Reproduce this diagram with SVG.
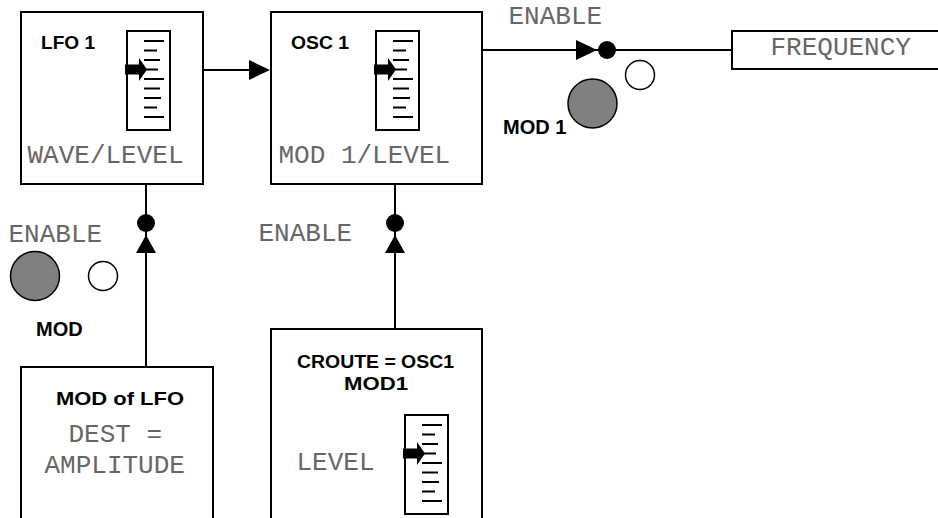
<svg xmlns="http://www.w3.org/2000/svg" width="938" height="518" viewBox="0 0 938 518">
<defs>
<style>
.box{fill:#fff;stroke:#000;stroke-width:2}
.ln{fill:none;stroke:#000;stroke-width:2}
.tick{stroke:#000;stroke-width:2}
.lcd{font-family:"Liberation Mono","DejaVu Sans Mono",monospace;font-size:26px;fill:#666}
.hd{font-family:"Liberation Sans",Arial,sans-serif;font-size:19px;font-weight:bold;fill:#000}
.lb{font-family:"Liberation Sans",Arial,sans-serif;font-size:20px;font-weight:bold;fill:#000}
.gray{fill:#808080;stroke:#000;stroke-width:1.5}
.open{fill:#fff;stroke:#000;stroke-width:1.5}
</style>
<g id="slider">
<rect x="0" y="0" width="43" height="99" class="box"/>
<line x1="17" y1="10" x2="37" y2="10" class="tick"/>
<line x1="17" y1="19.5" x2="30" y2="19.5" class="tick"/>
<line x1="17" y1="29" x2="33" y2="29" class="tick"/>
<line x1="17" y1="38.5" x2="31" y2="38.5" class="tick"/>
<line x1="17" y1="48" x2="37" y2="48" class="tick"/>
<line x1="17" y1="57.5" x2="33" y2="57.5" class="tick"/>
<line x1="17" y1="67" x2="34" y2="67" class="tick"/>
<line x1="17" y1="76.5" x2="30" y2="76.5" class="tick"/>
<line x1="17" y1="86" x2="37" y2="86" class="tick"/>
<path d="M-2,33.5 H12 V27 L20,38.5 L12,50 V43.5 H-2 Z" fill="#000"/>
</g>
</defs>
<rect width="938" height="518" fill="#fff"/>

<g id="connectors">
<line x1="203" y1="70" x2="252" y2="70" class="ln"/>
<polygon points="249,60 270,70 249,80" fill="#000"/>
<line x1="482" y1="50" x2="732" y2="50" class="ln"/>
<polygon points="576,40 597,50 576,60" fill="#000"/>
<circle cx="607" cy="50" r="9" fill="#000"/>
<line x1="146" y1="184" x2="146" y2="367" class="ln"/>
<polygon points="136,253 146,235 156,253" fill="#000"/>
<circle cx="146" cy="223" r="9" fill="#000"/>
<line x1="395" y1="184" x2="395" y2="329" class="ln"/>
<polygon points="385,253 395,235 405,253" fill="#000"/>
<circle cx="395" cy="223" r="9" fill="#000"/>
</g>

<g id="lfo1">
<rect x="21" y="12" width="182" height="172" class="box"/>
<text x="41" y="49" class="hd" textLength="54" lengthAdjust="spacingAndGlyphs">LFO 1</text>
<use href="#slider" x="127" y="31"/>
<text x="27.5" y="163" class="lcd">WAVE/LEVEL</text>
</g>

<g id="osc1">
<rect x="271" y="12" width="211" height="172" class="box"/>
<text x="291" y="49" class="hd" textLength="58" lengthAdjust="spacingAndGlyphs">OSC 1</text>
<use href="#slider" x="376" y="31"/>
<text x="278.5" y="163" class="lcd">MOD 1/LEVEL</text>
</g>

<g id="frequency">
<rect x="732" y="31" width="220" height="38" class="box"/>
<text x="770.5" y="55" class="lcd">FREQUENCY</text>
</g>

<g id="enable-top">
<text x="508.5" y="24" class="lcd">ENABLE</text>
<circle cx="640" cy="75" r="14.5" class="open"/>
<circle cx="592.5" cy="103.5" r="24.5" class="gray"/>
<text x="503" y="134" class="lb">MOD 1</text>
</g>

<g id="enable-left">
<text x="8.5" y="242" class="lcd">ENABLE</text>
<circle cx="35" cy="276" r="24.5" class="gray"/>
<circle cx="103" cy="276" r="14.5" class="open"/>
<text x="36" y="336" class="lb">MOD</text>
</g>

<g id="enable-mid">
<text x="258.5" y="241" class="lcd">ENABLE</text>
</g>

<g id="mod-of-lfo">
<rect x="21" y="367" width="192" height="170" class="box"/>
<text x="56" y="405" class="hd" textLength="128" lengthAdjust="spacingAndGlyphs">MOD of LFO</text>
<text x="68.5" y="442" class="lcd">DEST =</text>
<text x="44.5" y="473" class="lcd">AMPLITUDE</text>
</g>

<g id="croute">
<rect x="271" y="329" width="211" height="210" class="box"/>
<text x="297" y="368" class="hd" textLength="157" lengthAdjust="spacingAndGlyphs">CROUTE = OSC1</text>
<text x="344" y="390" class="hd" textLength="64" lengthAdjust="spacingAndGlyphs">MOD1</text>
<text x="296.5" y="470" class="lcd">LEVEL</text>
<use href="#slider" x="405" y="415"/>
</g>
</svg>
